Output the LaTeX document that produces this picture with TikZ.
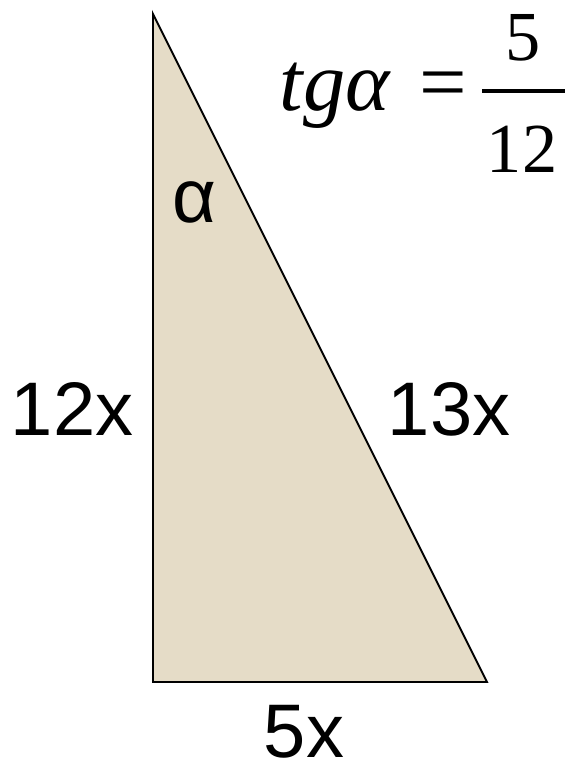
\documentclass[tikz,border=0pt]{standalone}
\usepackage{fontspec}
\setmainfont{Liberation Sans}
\newfontfamily\serifrm{Liberation Serif}
\usetikzlibrary{positioning}
\definecolor{sand}{RGB}{229,220,199}

\begin{document}
\begin{tikzpicture}[x=0.025cm,y=-0.025cm,line width=1.4pt,
    lbl/.style={font=\fontsize{54}{60}\selectfont,inner sep=0pt,anchor=base},
    frm/.style={font=\serifrm\fontsize{60}{64}\selectfont,inner sep=0pt,anchor=base},
    num/.style={font=\serifrm\fontsize{50}{54}\selectfont,inner sep=0pt,anchor=base}]
  \useasboundingbox (0,0) rectangle (565,769);
  % --- the right triangle ---
  \coordinate (A) at (153,14);    % top vertex, angle alpha
  \coordinate (B) at (153,682);   % right angle
  \coordinate (C) at (487,682);
  \filldraw[fill=sand,draw=black] (A) -- (B) -- (C) -- cycle;
  % --- side and angle labels ---
  \node[lbl] (legA)  at (72,435)  {12x};
  \node[lbl] (hyp)   at (449,435) {13x};
  \node[lbl] (legB)  at (304,757) {5x};
  \node[lbl] (alpha) at (194,222) {α};
  % --- tg alpha = 5/12 ---
  \node[frm,anchor=base west] (tg) at (279,110) {\itshape tgα};
  \node[frm] (eq) at (443,110) {=};
  \node[num] (numer) at (523,60)  {5};
  \node[num] (denom) at (522,172) {12};
  \draw[line width=2.2pt] (482,91) -- (565,91);
\end{tikzpicture}
\end{document}
